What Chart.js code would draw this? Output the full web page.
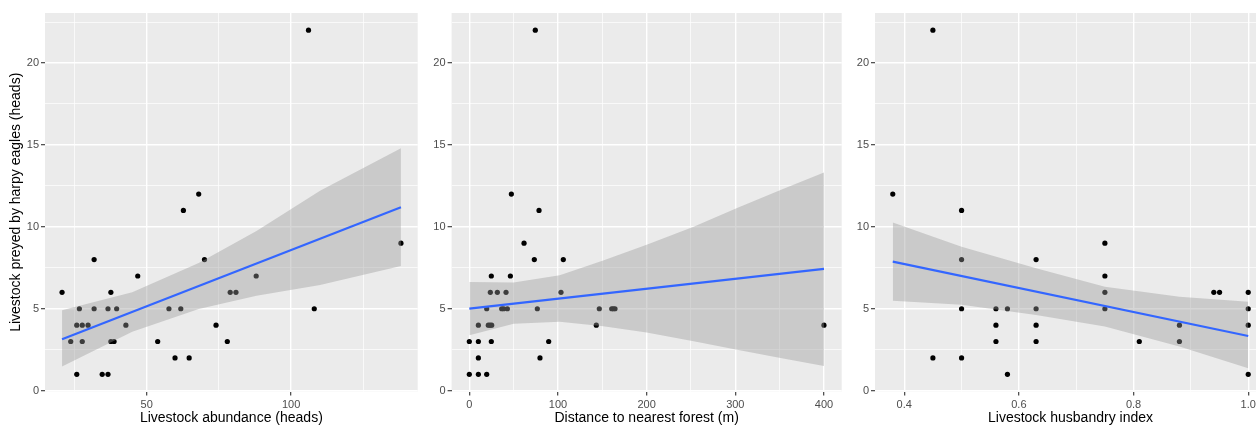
<!DOCTYPE html>
<html>
<head>
<meta charset="utf-8">
<title>Livestock preyed by harpy eagles</title>
<script src="https://cdn.jsdelivr.net/npm/chart.js@4.4.0/dist/chart.umd.min.js"></script>
<style>
  html, body { margin: 0; padding: 0; background: #fff; overflow: hidden; }
  #wrap { position: relative; width: 1256px; height: 427px; overflow: hidden; }
  canvas { position: absolute; top: 0; }
</style>
</head>
<body>
<div id="wrap">
  <canvas id="abundanceChart" width="423" height="427" style="left:0px"></canvas>
  <canvas id="distanceChart" width="423" height="427" style="left:423px"></canvas>
  <canvas id="husbandryChart" width="423" height="427" style="left:846px"></canvas>
</div>
<script>
"use strict";

// shared y axis
const Y_TITLE = "Livestock preyed by harpy eagles (heads)";
const yRange = [-0.05, 23.05];
const yTicks = [0, 2.5, 5, 7.5, 10, 12.5, 15, 17.5, 20, 22.5];
const yLabels = ["0", "", "5", "", "10", "", "15", "", "20", ""];

// panel 1: livestock abundance
const abundanceX = [20.7, 23.7, 25.8, 25.8, 26.7, 27.7, 27.7, 29.7, 31.8, 31.8, 34.6, 36.6, 36.6, 37.6, 37.6, 38.7, 39.6, 42.8,
  46.9, 53.8, 57.7, 59.8, 61.8, 62.7, 64.7, 68.0, 70.0, 74.0, 77.9, 78.9, 80.9, 87.9, 106, 108, 138];
const abundanceY = [6, 3, 4, 1, 5, 4, 3, 4, 8, 5, 1, 5, 1, 6, 3, 3, 5, 4,
  7, 3, 5, 2, 5, 11, 2, 12, 8, 4, 3, 6, 6, 7, 22, 5, 9];
const abundanceFitX = [20.7, 138];
const abundanceFitY = [3.14, 11.19];
const abundanceBandX = [20.7, 45, 68, 88, 110, 138];
const abundanceUpper = [4.91, 6.0, 7.8, 9.75, 12.2, 14.8];
const abundanceLower = [1.47, 3.6, 4.98, 5.8, 6.45, 7.61];
const abundanceRange = [14.8, 143.8];
const abundanceTicks = [25, 50, 75, 100, 125];
const abundanceLabels = ["", "50", "", "100", ""];

// panel 2: distance to nearest forest
const distanceX = [0, 10.2, 19.6, 10.2, 79.7, 0, 10.2, 24.8, 89.5, 10.2, 21.4, 23.3, 25.2, 143.2, 400,
  19.6, 36.5, 38.8, 42.9, 76.7, 146.6, 160.6, 162.4, 164.3, 23.7, 31.6, 41.4, 103.4, 24.8, 46.3,
  73.3, 106, 61.7, 78.6, 47.4, 74.4];
const distanceY = [1, 1, 1, 2, 2, 3, 3, 3, 3, 4, 4, 4, 4, 4, 4,
  5, 5, 5, 5, 5, 5, 5, 5, 5, 6, 6, 6, 6, 7, 7,
  8, 8, 9, 11, 12, 22];
const distanceFitX = [0, 400];
const distanceFitY = [5.01, 7.43];
const distanceBandX = [0, 50, 102, 151, 200, 253, 302, 351, 400];
const distanceUpper = [6.64, 6.6, 7.05, 7.95, 8.9, 10.0, 11.15, 12.25, 13.31];
const distanceLower = [3.38, 4.08, 4.2, 3.93, 3.55, 3.02, 2.5, 2.0, 1.51];
const distanceRange = [-20, 420];
const distanceTicks = [0, 50, 100, 150, 200, 250, 300, 350, 400];
const distanceLabels = ["0", "", "100", "", "200", "", "300", "", "400"];

// panel 3: livestock husbandry index
const husbandryX = [0.58, 1.0, 0.45, 0.5, 0.56, 0.63, 0.81, 0.88, 0.56, 0.63, 0.88, 1.0,
  0.5, 0.56, 0.58, 0.63, 0.75, 1.0, 0.75, 0.94, 0.95, 1.0, 0.75, 0.5, 0.63, 0.75, 0.5, 0.38, 0.45];
const husbandryY = [1, 1, 2, 2, 3, 3, 3, 3, 4, 4, 4, 4,
  5, 5, 5, 5, 5, 5, 6, 6, 6, 6, 7, 8, 8, 9, 11, 12, 22];
const husbandryFitX = [0.38, 1.0];
const husbandryFitY = [7.88, 3.34];
const husbandryBandX = [0.38, 0.5, 0.63, 0.75, 0.88, 1.0];
const husbandryUpper = [10.26, 8.79, 7.47, 6.35, 5.74, 5.43];
const husbandryLower = [5.49, 5.25, 4.62, 3.91, 2.69, 1.37];
const husbandryRange = [0.349, 1.031];
const husbandryTicks = [0.4, 0.5, 0.6, 0.7, 0.8, 0.9, 1.0];
const husbandryLabels = ["0.4", "", "0.6", "", "0.8", "", "1.0"];

const FONT = "'Liberation Sans', Arial, sans-serif";

const panelBg = {
  id: "panelBg",
  beforeDraw(chart) {
    const { ctx, chartArea: a } = chart;
    ctx.save();
    ctx.fillStyle = "#EBEBEB";
    ctx.fillRect(a.left, a.top, a.right - a.left, a.bottom - a.top);
    ctx.restore();
  },
};

function zip(xs, ys) {
  return xs.map((x, i) => ({ x, y: ys[i] }));
}

function gridFor(labels) {
  return {
    color: "#FFFFFF",
    lineWidth: (c) => (labels[c.index] ? 1.4 : 0.7),
    tickColor: (c) => (labels[c.index] ? "#333333" : "rgba(0,0,0,0)"),
    tickLength: 4,
    tickWidth: 1.1,
  };
}

function buildPanel(canvasId, p) {
  const ctx = document.getElementById(canvasId).getContext("2d");
  return new Chart(ctx, {
    type: "scatter",
    data: {
      datasets: [
        { type: "line", data: zip(p.fitX, p.fitY), borderColor: "#3366FF", borderWidth: 2.2, pointRadius: 0, fill: false },
        { type: "line", data: zip(p.bandX, p.upper), borderColor: "rgba(0,0,0,0)", borderWidth: 0, pointRadius: 0,
          fill: "+1", backgroundColor: "rgba(153,153,153,0.4)" },
        { type: "line", data: zip(p.bandX, p.lower), borderColor: "rgba(0,0,0,0)", borderWidth: 0, pointRadius: 0, fill: false },
        { data: zip(p.x, p.y), pointRadius: 2.6, pointHoverRadius: 2.6, borderWidth: 0,
          borderColor: "rgba(0,0,0,0)", backgroundColor: "#000000" },
      ],
    },
    options: {
      responsive: false,
      animation: false,
      events: [],
      layout: { padding: { top: 13, right: p.padRight, bottom: 0, left: 0 } },
      plugins: {
        legend: { display: false },
        tooltip: { enabled: false },
        filler: { drawTime: "beforeDatasetDraw" },
      },
      scales: {
        x: {
          type: "linear",
          min: p.range[0],
          max: p.range[1],
          afterBuildTicks: (s) => { s.ticks = p.ticks.map((v) => ({ value: v })); },
          afterFit: (s) => { s.height = 35.5; },
          grid: gridFor(p.labels),
          border: { display: false },
          ticks: { autoSkip: false, maxRotation: 0, padding: 2.5, color: "#4D4D4D",
            font: { family: FONT, size: 11 }, callback: (v, i) => p.labels[i] },
          title: { display: true, text: p.title, color: "#000000", font: { family: FONT, size: 14 },
            padding: { top: 0, bottom: 0 } },
        },
        y: {
          type: "linear",
          min: yRange[0],
          max: yRange[1],
          afterBuildTicks: (s) => { s.ticks = yTicks.map((v) => ({ value: v })); },
          afterFit: (s) => { s.width = p.yWidth; },
          grid: gridFor(yLabels),
          border: { display: false },
          ticks: { autoSkip: false, padding: 2, color: "#4D4D4D",
            font: { family: FONT, size: 11 }, callback: (v, i) => yLabels[i] },
          title: { display: p.showYTitle, text: Y_TITLE, color: "#000000", font: { family: FONT, size: 14 },
            padding: { top: 8, bottom: 0 } },
        },
      },
    },
    plugins: [panelBg],
  });
}

buildPanel("abundanceChart", {
  x: abundanceX, y: abundanceY, fitX: abundanceFitX, fitY: abundanceFitY,
  bandX: abundanceBandX, upper: abundanceUpper, lower: abundanceLower,
  range: abundanceRange, ticks: abundanceTicks, labels: abundanceLabels,
  title: "Livestock abundance (heads)", showYTitle: true, yWidth: 45, padRight: 5.3,
});

buildPanel("distanceChart", {
  x: distanceX, y: distanceY, fitX: distanceFitX, fitY: distanceFitY,
  bandX: distanceBandX, upper: distanceUpper, lower: distanceLower,
  range: distanceRange, ticks: distanceTicks, labels: distanceLabels,
  title: "Distance to nearest forest (m)", showYTitle: false, yWidth: 28.6, padRight: 4.3,
});

buildPanel("husbandryChart", {
  x: husbandryX, y: husbandryY, fitX: husbandryFitX, fitY: husbandryFitY,
  bandX: husbandryBandX, upper: husbandryUpper, lower: husbandryLower,
  range: husbandryRange, ticks: husbandryTicks, labels: husbandryLabels,
  title: "Livestock husbandry index", showYTitle: false, yWidth: 29, padRight: 3,
});
</script>
</body>
</html>
